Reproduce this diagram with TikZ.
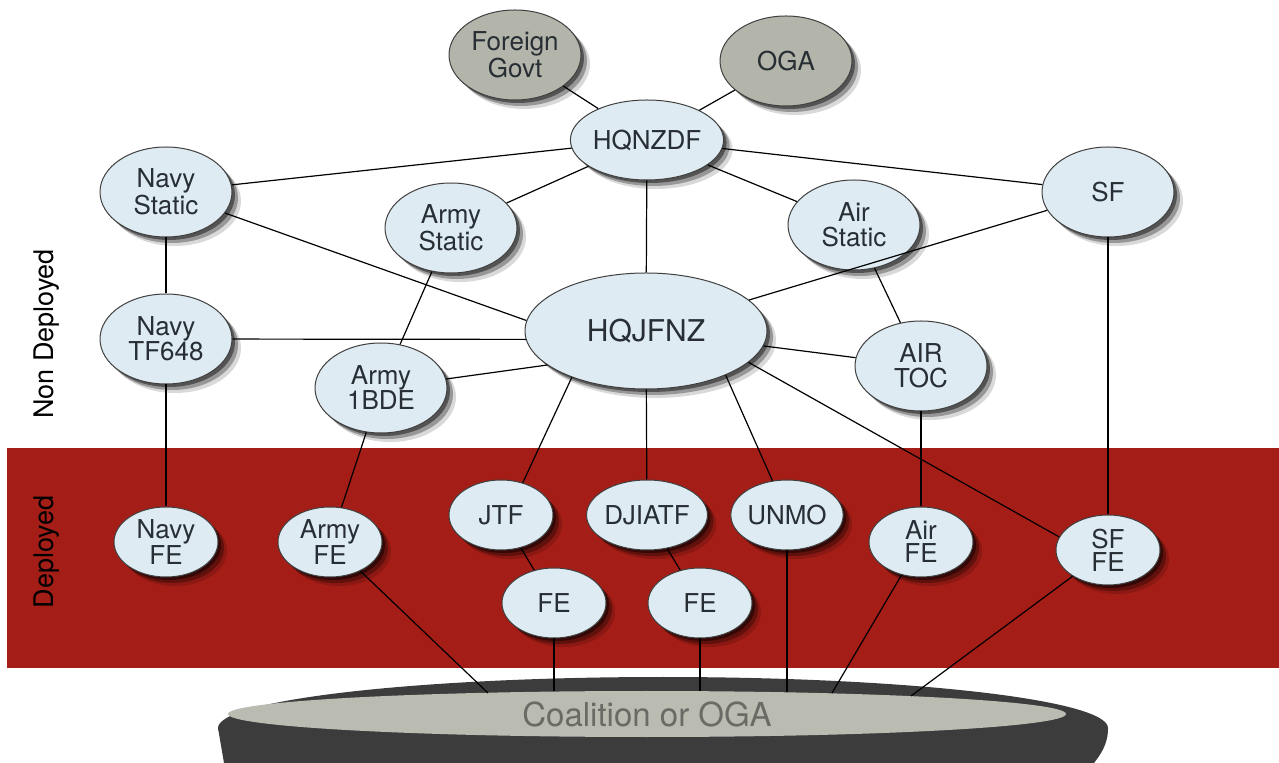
\documentclass[tikz,border=0pt]{standalone}
\usepackage{fontspec}
\setmainfont{TeX Gyre Heros}
\usepackage{tikz}
\usetikzlibrary{shapes.geometric,shadows}

\definecolor{bandred}{RGB}{164,29,22}
\definecolor{nodeblue}{RGB}{222,235,242}
\definecolor{nodegray}{RGB}{180,181,170}
\definecolor{labelgray}{RGB}{40,47,52}
\definecolor{discdark}{RGB}{60,60,60}
\definecolor{disclight}{RGB}{186,188,178}
\definecolor{disctext}{RGB}{105,107,100}

\begin{document}
\begin{tikzpicture}[x=0.5pt,y=-0.5pt,
  unit/.style={shape=ellipse,draw=black!75,line width=0.5pt,fill=nodeblue,
    inner sep=0pt,minimum width=66pt,minimum height=45pt,align=center,
    text=labelgray,font=\fontsize{13}{12.5}\selectfont,
    drop shadow={shadow xshift=1.5pt,shadow yshift=-1.5pt,opacity=0.45,fill=black},
    drop shadow={shadow xshift=3pt,shadow yshift=-3pt,opacity=0.3,fill=black},
    drop shadow={shadow xshift=4.5pt,shadow yshift=-4.5pt,opacity=0.15,fill=black}},
  outside/.style={unit,fill=nodegray},
  fe/.style={unit,minimum width=52pt,minimum height=35pt,
    font=\fontsize{13}{11.5}\selectfont},
  side/.style={rotate=90,font=\fontsize{13.5}{14}\selectfont},
  link/.style={draw=black,line width=0.6pt}]
  \useasboundingbox (0,0) rectangle (1279,763);

  % deployed band and coalition disc
  \fill [bandred] (7,448) rectangle (1279,668);
  \fill [discdark] (663,728) ellipse [x radius=445,y radius=51];
  \fill [discdark] (218,728) -- (1108,728)
      .. controls (1108,745) and (1100,755) .. (1094,763) -- (224,763) -- cycle;
  \node [name=coal,shape=ellipse,fill=disclight,inner sep=0pt,
      minimum width=419pt,minimum height=23pt,text=disctext,
      font=\fontsize{16.5}{17}\selectfont] at (647,714) {Coalition or OGA};

  \coordinate (c1) at (488,693);
  \coordinate (c2) at (554,691);
  \coordinate (c3) at (700,691);
  \coordinate (c4) at (787,692);
  \coordinate (c5) at (832,693);
  \coordinate (c6) at (911,696);

  \node [name=nondep,side] at (47,334) {Non Deployed};
  \node [name=dep,side] at (47,552) {Deployed};

  % non deployed
  \node [name=forgovt,outside] at (515,55) {Foreign\\Govt};
  \node [name=oga,outside] at (786,61) {OGA};
  \node [name=hqnzdf,unit,minimum height=40pt] at (647,140) {HQNZDF};
  \node [name=navystatic,unit] at (166,192) {Navy\\Static};
  \node [name=armystatic,unit] at (451,228) {Army\\Static};
  \node [name=airstatic,unit] at (854,225) {Air\\Static};
  \node [name=sf,unit] at (1108,192) {SF};
  \node [name=hqjfnz,unit,minimum width=121pt,minimum height=58pt,
      font=\fontsize{15}{15}\selectfont] at (646,331) {HQJFNZ};
  \node [name=navytf,unit] at (166,339) {Navy\\TF648};
  \node [name=armybde,unit] at (381,388) {Army\\1BDE};
  \node [name=airtoc,unit] at (921,366) {AIR\\TOC};

  % deployed
  \node [name=navyfe,fe] at (166,542) {Navy\\FE};
  \node [name=armyfe,fe] at (330,542) {Army\\FE};
  \node [name=jtf,fe] at (501,515) {JTF};
  \node [name=fea,fe] at (554,603) {FE};
  \node [name=djiatf,fe] at (647,515) {DJIATF};
  \node [name=feb,fe] at (700,603) {FE};
  \node [name=unmo,fe] at (787,515) {UNMO};
  \node [name=airfe,fe] at (921,542) {Air\\FE};
  \node [name=sffe,fe] at (1108,550) {SF\\FE};

  \draw [link] (forgovt) -- (hqnzdf);
  \draw [link] (oga) -- (hqnzdf);
  \draw [link] (hqnzdf) -- (navystatic);
  \draw [link] (hqnzdf) -- (armystatic);
  \draw [link] (hqnzdf) -- (hqjfnz);
  \draw [link] (hqnzdf) -- (airstatic);
  \draw [link] (hqnzdf) -- (sf);
  \draw [link] (navystatic) -- (navytf);
  \draw [link] (navystatic) -- (hqjfnz.175);
  \draw [link] (armystatic) -- (armybde);
  \draw [link] (airstatic) -- (airtoc);
  \draw [link] (sf) -- (hqjfnz);
  \draw [link] (sf) -- (sffe);
  \draw [link] (navytf) -- (hqjfnz.184);
  \draw [link] (navytf) -- (navyfe);
  \draw [link] (armybde) -- (hqjfnz.199);
  \draw [link] (armybde) -- (armyfe);
  \draw [link] (hqjfnz) -- (airtoc);
  \draw [link] (hqjfnz.212) -- (jtf.56);
  \draw [link] (hqjfnz) -- (djiatf);
  \draw [link] (hqjfnz.331) -- (unmo.113);
  \draw [link] (hqjfnz.343) -- (sffe.165);
  \draw [link] (airtoc) -- (airfe);
  \draw [link] (jtf) -- (fea);
  \draw [link] (djiatf) -- (feb);

  \draw [link] (armyfe) -- (c1);
  \draw [link] (fea) -- (c2);
  \draw [link] (feb) -- (c3);
  \draw [link] (unmo) -- (c4);
  \draw [link] (airfe) -- (c5);
  \draw [link] (sffe) -- (c6);
\end{tikzpicture}
\end{document}
